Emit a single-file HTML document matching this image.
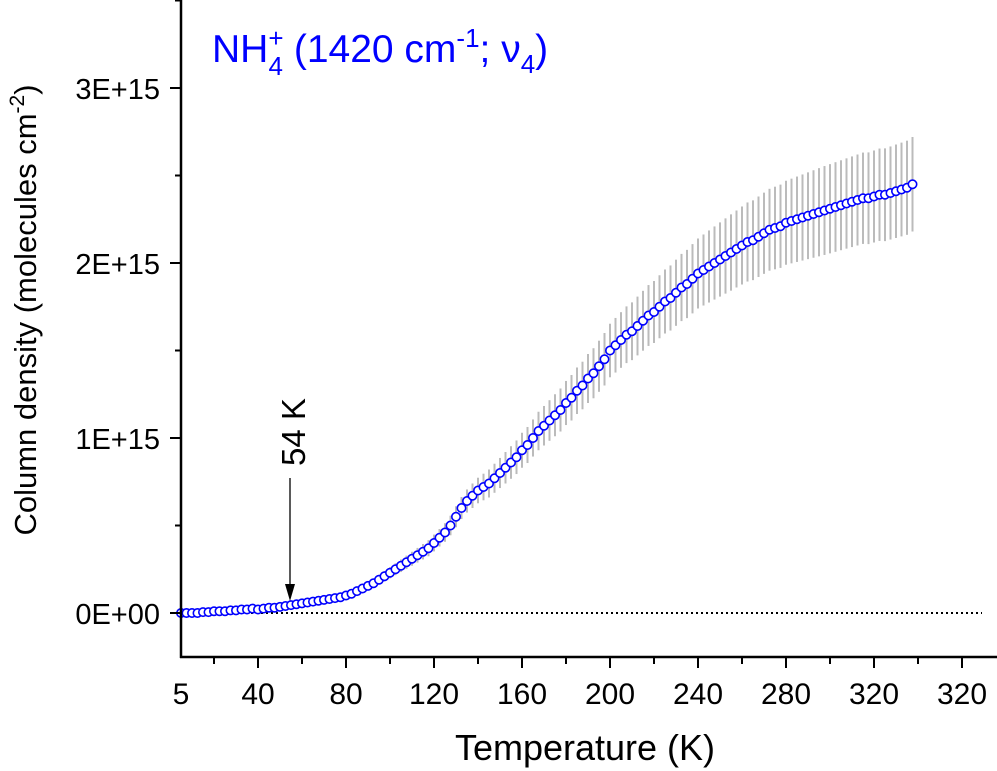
<!DOCTYPE html>
<html><head><meta charset="utf-8"><style>
body{margin:0;background:#fff;}
svg{display:block;font-family:"Liberation Sans",Arial,sans-serif;}
</style></head><body>
<svg id="chart" width="997" height="771" viewBox="0 0 997 771">
<g id="errs"></g>
<line x1="181" y1="613" x2="982" y2="613" stroke="#000" stroke-width="2" stroke-dasharray="2,3"/>
<g id="pts"></g>
<line x1="181" y1="0" x2="181" y2="658" stroke="#000" stroke-width="2.5"/>
<line x1="180" y1="657" x2="997" y2="657" stroke="#000" stroke-width="2.5"/>
<g id="xt"></g>
<g id="yt"></g>
<text x="585" y="760" font-size="36" text-anchor="middle">Temperature (K)</text>
<text transform="translate(36,310) rotate(-90)" font-size="31" text-anchor="middle">Column density (molecules cm<tspan dy="-12" font-size="21">-2</tspan><tspan dy="12">)</tspan></text>
<text x="212" y="62" font-size="39" fill="#0000ff">NH<tspan dy="-15" font-size="26">+</tspan><tspan dx="-15" dy="28" font-size="26">4</tspan><tspan dy="-13"> (1420 cm</tspan><tspan dy="-15" font-size="26">-1</tspan><tspan dy="15">; ν</tspan><tspan dy="11" font-size="26">4</tspan><tspan dy="-11">)</tspan></text>
<text transform="translate(305,466) rotate(-90)" font-size="33">54 K</text>
<line x1="290" y1="478" x2="290" y2="588" stroke="#000" stroke-width="1.3"/>
<polygon points="285,584 295,584 290,601" fill="#000"/>
</svg>
<script>
const temps=[5,7.5,10,12.5,15,17.5,20,22.5,25,27.5,30,32.5,35,37.5,40,42.5,45,47.5,50,52.5,55,57.5,60,62.5,65,67.5,70,72.5,75,77.5,80,82.5,85,87.5,90,92.5,95,97.5,100,102.5,105,107.5,110,112.5,115,117.5,120,122.5,125,127.5,130,132.5,135,137.5,140,142.5,145,147.5,150,152.5,155,157.5,160,162.5,165,167.5,170,172.5,175,177.5,180,182.5,185,187.5,190,192.5,195,197.5,200,202.5,205,207.5,210,212.5,215,217.5,220,222.5,225,227.5,230,232.5,235,237.5,240,242.5,245,247.5,250,252.5,255,257.5,260,262.5,265,267.5,270,272.5,275,277.5,280,282.5,285,287.5,290,292.5,295,297.5,300,302.5,305,307.5,310,312.5,315,317.5,320,322.5,325,327.5,330,332.5,335,337.5];
const density=[0,0,0,0,0.005,0.005,0.01,0.01,0.01,0.015,0.015,0.02,0.02,0.025,0.02,
0.025,0.03,0.03,0.035,0.04,0.045,0.05,0.055,0.06,0.065,0.07,0.075,0.08,0.085,0.09,0.10,
0.11,0.125,0.14,0.155,0.17,0.19,0.21,0.23,0.25,0.27,0.29,0.31,0.33,0.35,0.37,0.40,
0.43,0.46,0.50,0.55,0.60,0.64,0.67,0.70,0.72,0.74,0.77,0.80,0.83,0.86,0.89,0.93,
0.96,1.00,1.04,1.07,1.10,1.13,1.16,1.20,1.23,1.27,1.30,1.34,1.37,1.41,1.45,1.50,
1.53,1.56,1.59,1.61,1.64,1.67,1.70,1.72,1.75,1.78,1.80,1.83,1.86,1.88,1.91,1.94,
1.96,1.98,2.00,2.02,2.04,2.06,2.08,2.10,2.12,2.13,2.15,2.17,2.19,2.20,2.21,2.23,
2.24,2.25,2.26,2.27,2.28,2.29,2.30,2.31,2.32,2.33,2.34,2.35,2.36,2.37,2.37,2.38,
2.39,2.39,2.40,2.41,2.42,2.43,2.45];
const errs=[0.005,0.005,0.005,0.005,0.005,0.005,0.005,0.005,0.005,0.005,0.005,0.005,0.005,0.005,0.006,
0.006,0.006,0.007,0.007,0.008,0.008,0.009,0.009,0.01,0.01,0.011,0.012,0.013,0.014,0.015,0.016,
0.018,0.02,0.022,0.024,0.026,0.028,0.03,0.032,0.034,0.036,0.038,0.04,0.042,0.044,0.046,0.048,
0.05,0.053,0.056,0.06,0.063,0.066,0.07,0.073,0.076,0.08,0.083,0.086,0.09,0.093,0.096,0.10,
0.103,0.106,0.11,0.113,0.116,0.12,0.123,0.126,0.13,0.133,0.136,0.14,0.143,0.146,0.15,0.153,
0.156,0.159,0.162,0.165,0.168,0.171,0.174,0.177,0.18,0.183,0.186,0.189,0.192,0.195,0.198,0.20,
0.203,0.206,0.209,0.212,0.215,0.218,0.22,0.223,0.226,0.228,0.23,0.232,0.234,0.236,0.238,0.24,
0.242,0.244,0.246,0.248,0.25,0.252,0.254,0.255,0.256,0.257,0.258,0.259,0.26,0.261,0.262,0.263,
0.264,0.265,0.266,0.267,0.268,0.269,0.27];
const xTickVals=[5,40,80,120,160,200,240,280,320,360];
const xTickLabels=["5","40","80","120","160","200","240","280","320","320"];
const yTickVals=[0,1,2,3];
const yTickLabels=["0E+00","1E+15","2E+15","3E+15"];
const NS='http://www.w3.org/2000/svg';
function xs(t){return 258+(t-40)*2.2;}
function ys(v){return 613-v*175;}
function mk(tag,a,p){const e=document.createElementNS(NS,tag);for(const k in a)e.setAttribute(k,a[k]);p.appendChild(e);return e;}
const gE=document.getElementById('errs'),gP=document.getElementById('pts'),gX=document.getElementById('xt'),gY=document.getElementById('yt');
temps.forEach((t,i)=>{
 const l=mk('line',{x1:xs(t),x2:xs(t),y1:ys(density[i]-errs[i]),y2:ys(density[i]+errs[i]),stroke:'#bbb','stroke-width':2},gE);
 
 
 const c=mk('circle',{cx:xs(t),cy:ys(density[i]),r:4.2,fill:'#fff',stroke:'#0000ff','stroke-width':1.6},gP);
 
 
});
xTickVals.forEach((v,i)=>{
 const x=v===5?181:xs(v);
 if(v!==5){const l=mk('line',{x1:x,x2:x,y1:657,y2:668,stroke:'#000','stroke-width':2},gX);
 
 }
 const m=xs(v)-44;
 if(m>185){const ml=mk('line',{x1:m,x2:m,y1:657,y2:664,stroke:'#000','stroke-width':2},gX);
 
 }
 const tx=mk('text',{x:x,y:704,'font-size':30,'text-anchor':'middle'},gX);
 tx.textContent=xTickLabels[i];
 
 
});
yTickVals.forEach((v,i)=>{
 const y=ys(v);
 const l=mk('line',{x1:170,x2:181,y1:y,y2:y,stroke:'#000','stroke-width':2},gY);
 
 
 [-0.5,0.5].forEach(d=>{const yy=ys(v+d);if(yy>0&&yy<655){const m=mk('line',{x1:175,x2:181,y1:yy,y2:yy,stroke:'#000','stroke-width':2},gY);
 
 }});
 const tx=mk('text',{x:160,y:y+11,'font-size':29,'text-anchor':'end'},gY);
 tx.textContent=yTickLabels[i];
 
 
});
</script>
</body></html>
